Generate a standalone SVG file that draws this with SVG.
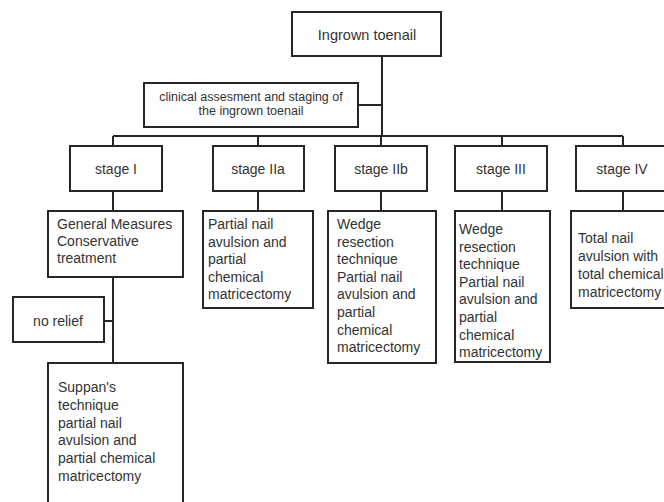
<svg xmlns="http://www.w3.org/2000/svg" width="664" height="502" viewBox="0 0 664 502">
<style>
rect{fill:#fff;stroke:#262626;stroke-width:2}
.c path{fill:none;stroke:#262626;stroke-width:2}
text{font-family:"Liberation Sans",Arial,sans-serif;font-size:14px;fill:#333}
.m{text-anchor:middle}
.s{font-size:12.5px}
</style>
<rect x="0" y="0" width="664" height="502" style="stroke:none"/>
<g class="c">
<path d="M382 56V136M358 105H382M113 136H623M113 136V146M258 136V146M381 136V146M502 136V146M623 136V146"/>
<path d="M113 191V211M258 191V211M381 191V211M502 191V211M623 191V211"/>
<path d="M113 277V363M104 321H113"/>
</g>
<g id="top"><rect x="292" y="12" width="149" height="44"/><text class="m" x="367" y="40" style="font-size:14.5px">Ingrown toenail</text></g>
<g id="clinical"><rect x="144" y="83" width="214" height="44"/><text class="m s" x="251" y="101">clinical assesment and staging of<tspan x="251" dy="14">the ingrown toenail</tspan></text></g>
<g id="s1"><rect x="70" y="146" width="92" height="45"/><text class="m" x="116" y="174">stage I</text></g>
<g id="s2a"><rect x="213" y="146" width="91" height="45"/><text class="m" x="258" y="174">stage IIa</text></g>
<g id="s2b"><rect x="335" y="146" width="92" height="45"/><text class="m" x="381" y="174">stage IIb</text></g>
<g id="s3"><rect x="455" y="146" width="92" height="45"/><text class="m" x="501" y="174">stage III</text></g>
<g id="s4"><rect x="576" y="146" width="94" height="45"/><text class="m" x="622" y="174">stage IV</text></g>
<g id="d1"><rect x="48" y="211" width="135" height="66"/><text x="57" y="229">General Measures<tspan x="57" dy="17">Conservative</tspan><tspan x="57" dy="17">treatment</tspan></text></g>
<g id="d2a"><rect x="203" y="211" width="110" height="97"/><text x="208" y="229">Partial nail<tspan x="208" dy="17.6">avulsion and</tspan><tspan x="208" dy="17.6">partial</tspan><tspan x="208" dy="17.6">chemical</tspan><tspan x="208" dy="17.6">matricectomy</tspan></text></g>
<g id="d2b"><rect x="328" y="211" width="108" height="152"/><text x="337" y="229">Wedge<tspan x="337" dy="17.6">resection</tspan><tspan x="337" dy="17.6">technique</tspan><tspan x="337" dy="17.6">Partial nail</tspan><tspan x="337" dy="17.6">avulsion and</tspan><tspan x="337" dy="17.6">partial</tspan><tspan x="337" dy="17.6">chemical</tspan><tspan x="337" dy="17.6">matricectomy</tspan></text></g>
<g id="d3"><rect x="455" y="211" width="95" height="151"/><text x="459" y="234">Wedge<tspan x="459" dy="17.6">resection</tspan><tspan x="459" dy="17.6">technique</tspan><tspan x="459" dy="17.6">Partial nail</tspan><tspan x="459" dy="17.6">avulsion and</tspan><tspan x="459" dy="17.6">partial</tspan><tspan x="459" dy="17.6">chemical</tspan><tspan x="459" dy="17.6">matricectomy</tspan></text></g>
<g id="d4"><rect x="571" y="211" width="99" height="97"/><text x="578" y="243">Total nail<tspan x="578" dy="18">avulsion with</tspan><tspan x="578" dy="18">total chemical</tspan><tspan x="578" dy="18">matricectomy</tspan></text></g>
<g id="norelief"><rect x="13" y="297" width="91" height="45"/><text class="m" x="58" y="326">no relief</text></g>
<g id="suppan"><rect x="48" y="363" width="135" height="150"/><text x="58" y="392">Suppan's<tspan x="58" dy="17.8">technique</tspan><tspan x="58" dy="17.8">partial nail</tspan><tspan x="58" dy="17.8">avulsion and</tspan><tspan x="58" dy="17.8">partial chemical</tspan><tspan x="58" dy="17.8">matricectomy</tspan></text></g>
</svg>
